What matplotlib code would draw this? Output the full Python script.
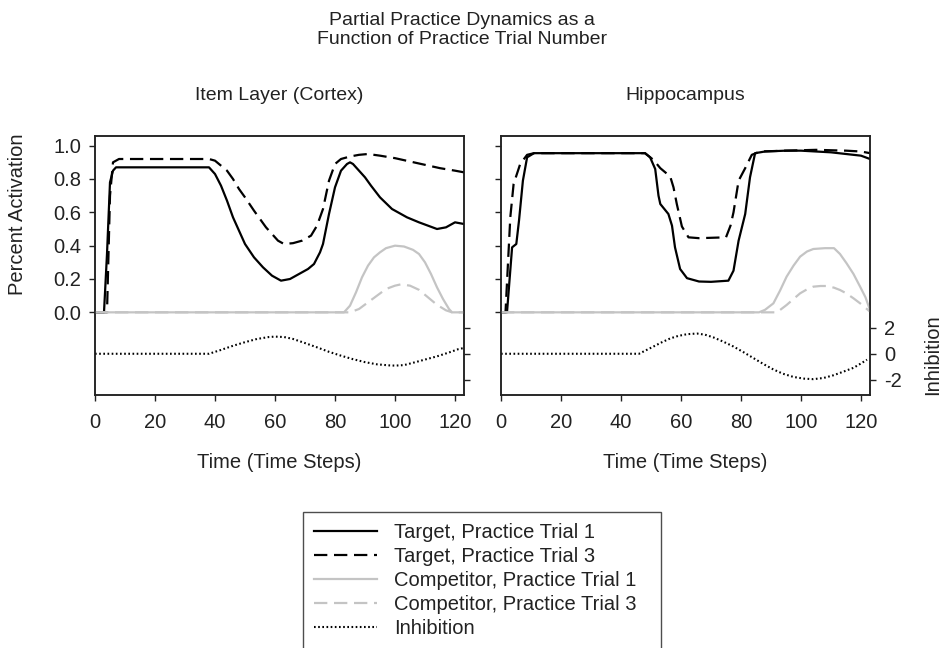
import matplotlib
matplotlib.use("Agg")
import matplotlib.pyplot as plt
from matplotlib.lines import Line2D

plt.rcParams["font.family"] = ["Liberation Sans", "DejaVu Sans"]
plt.rcParams["font.size"] = 14.5
TXT = "#222222"
GREY = "#c4c4c4"

# ---- Item layer (cortex) ----
cx_tgt1_t = [0, 3, 4, 5, 6, 7, 38, 40, 42, 44, 46, 48, 50, 53, 56, 59, 62, 65, 68, 71, 73,
             75, 76, 78, 80, 82, 84, 85, 86, 88, 90, 92, 95, 99, 104, 108, 111, 114, 117, 120, 123]
cx_tgt1 = [0, 0, 0.35, 0.78, 0.85, 0.87, 0.87, 0.83, 0.76, 0.67, 0.57, 0.49, 0.41, 0.33, 0.27,
           0.22, 0.19, 0.20, 0.23, 0.26, 0.29, 0.36, 0.41, 0.59, 0.75, 0.85, 0.89, 0.90, 0.89,
           0.85, 0.81, 0.76, 0.69, 0.62, 0.57, 0.54, 0.52, 0.50, 0.51, 0.54, 0.53]
cx_tgt3_t = [0, 4, 5, 6, 8, 38, 40, 42, 44, 46, 48, 50, 53, 57, 61, 63, 66, 69, 72, 74, 76, 78,
             80, 82, 85, 88, 91, 95, 100, 105, 110, 115, 120, 123]
cx_tgt3 = [0, 0, 0.70, 0.90, 0.92, 0.92, 0.91, 0.88, 0.85, 0.80, 0.74, 0.69, 0.61, 0.51, 0.43,
           0.41, 0.415, 0.43, 0.46, 0.52, 0.62, 0.79, 0.89, 0.92, 0.935, 0.945, 0.95, 0.94,
           0.925, 0.905, 0.885, 0.865, 0.85, 0.84]
cx_cmp1_t = [0, 83, 85, 87, 89, 91, 93, 95, 97, 100, 103, 106, 108, 110, 112, 114, 116, 118, 119, 123]
cx_cmp1 = [0, 0, 0.04, 0.12, 0.21, 0.28, 0.33, 0.36, 0.385, 0.40, 0.395, 0.375, 0.35, 0.30,
           0.23, 0.15, 0.08, 0.02, 0, 0]
cx_cmp3_t = [0, 85, 88, 91, 94, 97, 100, 102, 105, 108, 111, 114, 117, 119, 123]
cx_cmp3 = [0, 0, 0.02, 0.06, 0.10, 0.14, 0.16, 0.168, 0.16, 0.135, 0.09, 0.045, 0.012, 0, 0]
cx_inh_t = [0, 38, 42, 46, 50, 54, 58, 60, 63, 66, 70, 74, 78, 82, 86, 90, 94, 98, 100, 103,
            106, 110, 114, 118, 121, 123]
cx_inh = [0, 0, 0.3, 0.62, 0.9, 1.15, 1.3, 1.33, 1.3, 1.15, 0.83, 0.5, 0.15, -0.15, -0.42,
          -0.65, -0.82, -0.9, -0.92, -0.88, -0.7, -0.45, -0.2, 0.1, 0.35, 0.45]

# ---- Hippocampus ----
hc_tgt1_t = [0, 2, 3.7, 5.1, 6, 7.3, 8.7, 11, 30, 48, 49.7, 51.4, 52.5, 53.1, 55.8, 57, 58,
             59.7, 62, 66, 70, 75.8, 77.5, 79.2, 81.4, 83, 84.7, 88, 95, 100, 105, 110, 115, 120, 123]
hc_tgt1 = [0, 0, 0.39, 0.41, 0.55, 0.79, 0.93, 0.955, 0.955, 0.955, 0.93, 0.86, 0.70, 0.65,
           0.59, 0.52, 0.39, 0.26, 0.205, 0.185, 0.183, 0.19, 0.25, 0.43, 0.59, 0.81, 0.955,
           0.965, 0.97, 0.97, 0.965, 0.96, 0.95, 0.94, 0.92]
hc_tgt3_t = [0, 1.5, 3.1, 4.2, 6.4, 8.7, 11, 48, 50.8, 53.1, 56.4, 57.5, 58.6, 60.3, 62.5, 66,
             75, 76.5, 77.5, 79.2, 81.4, 83.6, 86.4, 95, 105, 115, 120, 123]
hc_tgt3 = [0, 0, 0.57, 0.77, 0.89, 0.945, 0.955, 0.955, 0.915, 0.865, 0.815, 0.75, 0.65, 0.515,
           0.45, 0.445, 0.45, 0.52, 0.60, 0.79, 0.865, 0.945, 0.965, 0.97, 0.975, 0.97, 0.965, 0.955]
hc_cmp1_t = [0, 86, 88, 90.8, 93, 95.2, 97.5, 99.7, 102, 104.1, 108, 111, 113, 115.2, 117.5,
             119.7, 121.5, 123]
hc_cmp1 = [0, 0, 0.015, 0.054, 0.13, 0.214, 0.28, 0.334, 0.365, 0.38, 0.385, 0.385, 0.35,
           0.294, 0.23, 0.154, 0.09, 0.014]
hc_cmp3_t = [0, 92, 95.2, 97.5, 99.7, 102, 104.1, 106.5, 108.6, 111, 113, 115, 117.5, 120, 123]
hc_cmp3 = [0, 0, 0.044, 0.08, 0.114, 0.138, 0.154, 0.158, 0.158, 0.148, 0.134, 0.115, 0.084,
           0.05, 0.004]
hc_inh_t = [0, 46, 50.8, 53.5, 56.4, 59, 62, 65.3, 68, 70.8, 74, 77.5, 81, 84.1, 87.5, 90.8,
            94, 97.5, 101, 104.1, 107.5, 110.8, 114, 117.5, 120, 122]
hc_inh = [0, 0, 0.56, 0.88, 1.19, 1.38, 1.52, 1.57, 1.48, 1.27, 0.95, 0.56, 0.1, -0.33, -0.8,
          -1.22, -1.55, -1.8, -1.93, -1.97, -1.88, -1.67, -1.4, -1.09, -0.75, -0.46]

panels = [
    ("Item Layer (Cortex)", cx_tgt1_t, cx_tgt1, cx_tgt3_t, cx_tgt3, cx_cmp1_t, cx_cmp1,
     cx_cmp3_t, cx_cmp3, cx_inh_t, cx_inh),
    ("Hippocampus", hc_tgt1_t, hc_tgt1, hc_tgt3_t, hc_tgt3, hc_cmp1_t, hc_cmp1,
     hc_cmp3_t, hc_cmp3, hc_inh_t, hc_inh),
]
act_ticks = [0, 0.2, 0.4, 0.6, 0.8, 1.0]
inh_ticks = [-2, 0, 2]

DASH = (0, (6, 3))
DOT = (0, (0.8, 1.2))

fig = plt.figure(figsize=(9.41, 6.48), dpi=100)
lefts = [95 / 941, 501 / 941]
W, B, H = 369 / 941, (648 - 395) / 648, 259 / 648

for i, (name, t1x, t1, t3x, t3, c1x, c1, c3x, c3, ix, inh) in enumerate(panels):
    ax = fig.add_axes([lefts[i], B, W, H])
    ax2 = ax.twinx()
    ax.plot(t1x, t1, color="black", lw=1.6, zorder=3)
    ax.plot(t3x, t3, color="black", lw=1.6, ls=DASH, zorder=3)
    ax.plot(c1x, c1, color=GREY, lw=1.6, zorder=4)
    ax.plot(c3x, c3, color=GREY, lw=1.6, ls=DASH, zorder=4)
    ax2.plot(ix, inh, color="black", lw=1.5, ls=DOT)

    ax.set_xlim(0, 123)
    ax.set_ylim(-0.496, 1.058)
    ax2.set_ylim(-3.2, 16.9)
    ax.set_xticks(range(0, 121, 20))
    ax.set_yticks(act_ticks)
    ax2.set_yticks(inh_ticks)
    if i == 0:
        ax.set_yticklabels([f"{v:.1f}" for v in act_ticks])
        ax2.set_yticklabels([])
    else:
        ax.set_yticklabels([])
        ax2.set_yticklabels([str(v) for v in inh_ticks])
    for a in (ax, ax2):
        a.tick_params(direction="out", length=4, width=1, colors=TXT, labelcolor=TXT, pad=6)
        for s in a.spines.values():
            s.set_linewidth(1.1)
            s.set_color("#222222")
    ax.tick_params(axis="x", pad=9)
    ax.set_xlabel("Time (Time Steps)", color=TXT, labelpad=15)
    ax.set_title(name, color=TXT, pad=26, fontsize=14)

fig.text(18 / 941, 1 - 214 / 648, "Percent Activation", rotation=90, ha="center",
         va="center", color=TXT)
fig.text(933 / 941, 1 - 355 / 648, "Inhibition", rotation=90, ha="center",
         va="center", color=TXT)
fig.text(462 / 941, 1 - 30 / 648, "Partial Practice Dynamics as a\nFunction of Practice Trial Number",
         ha="center", va="center", color=TXT, fontsize=14, linespacing=1.2)

handles = [
    Line2D([], [], color="black", lw=1.6),
    Line2D([], [], color="black", lw=1.6, ls=DASH),
    Line2D([], [], color=GREY, lw=1.6),
    Line2D([], [], color=GREY, lw=1.6, ls=DASH),
    Line2D([], [], color="black", lw=1.5, ls=DOT),
]
labels = ["Target, Practice Trial 1", "Target, Practice Trial 3", "Competitor, Practice Trial 1",
          "Competitor, Practice Trial 3", "Inhibition"]
leg = fig.legend(handles, labels, loc="upper left",
                 bbox_to_anchor=(303 / 941, 0, 358 / 941, 1 - 512 / 648), mode="expand",
                 frameon=True, fancybox=False, handlelength=3.1, handletextpad=0.85,
                 labelspacing=0.25, borderpad=0.55, borderaxespad=0)
leg.get_frame().set_edgecolor("#222222")
leg.get_frame().set_linewidth(1.0)
for txt in leg.get_texts():
    txt.set_color(TXT)

fig.savefig("out.png", dpi=100)
